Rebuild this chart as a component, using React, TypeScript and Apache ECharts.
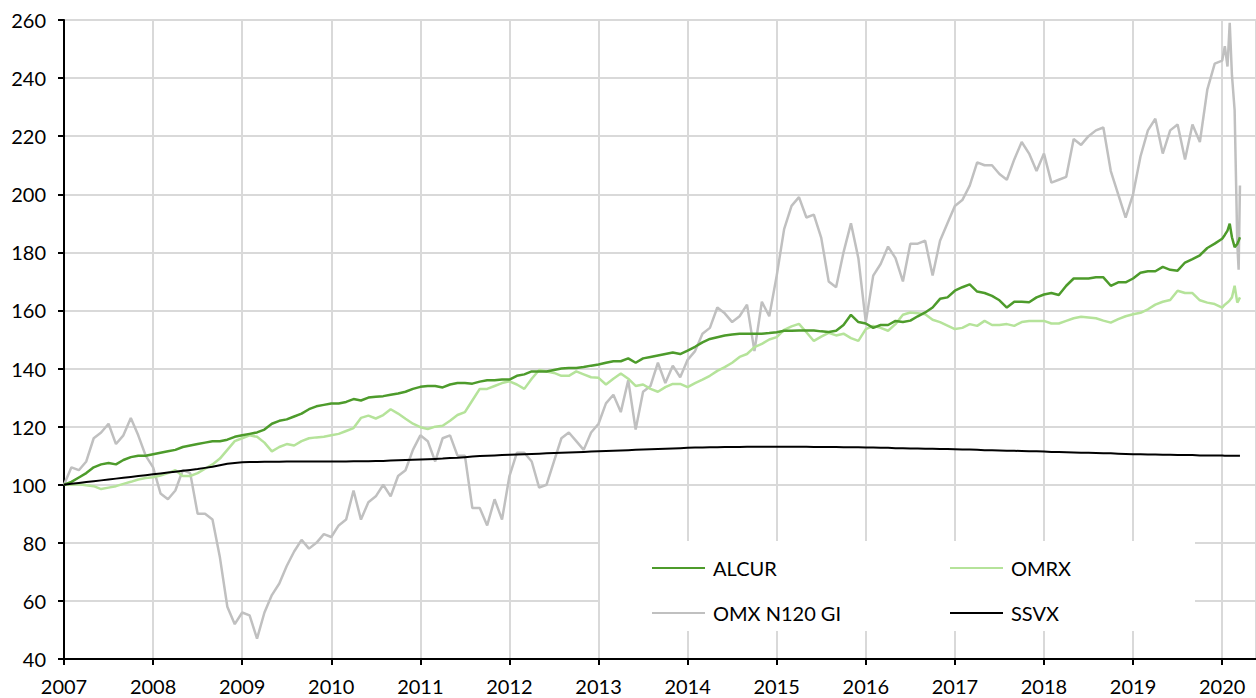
import React, { useEffect, useRef } from "react";
import * as echarts from "echarts";

// x positions: monthly points (decimal years) plus a finer tail for early 2020
const monthlyDates: number[] = [];
for (let y = 2007; y < 2020; y++) for (let m = 0; m < 12; m++) monthlyDates.push(y + m / 12);
const tailDates = [2020.0, 2020.03, 2020.06, 2020.085, 2020.11, 2020.14, 2020.17, 2020.185, 2020.2];
const dates = [...monthlyDates, ...tailDates];

const yearTicks = [2007, 2008, 2009, 2010, 2011, 2012, 2013, 2014, 2015, 2016, 2017, 2018, 2019, 2020];

const alcur = [
  100, 101, 102.5, 104, 106, 107, 107.5, 107, 108.5, 109.5, 110, 110,
  110.5, 111, 111.5, 112, 113, 113.5, 114, 114.5, 115, 115, 115.5, 116.5,
  117, 117.5, 118, 119, 121, 122, 122.5, 123.5, 124.5, 126, 127, 127.5,
  128, 128, 128.5, 129.5, 129, 130, 130.3, 130.5, 131, 131.4, 132, 133,
  133.7, 134, 134, 133.5, 134.5, 135, 135, 134.8, 135.5, 136, 136, 136.2,
  136.2, 137.5, 138, 139, 139, 139, 139.5, 140, 140.2, 140.2, 140.5, 141,
  141.4, 142, 142.5, 142.5, 143.5, 142, 143.5, 144, 144.5, 145, 145.5, 145,
  146.2, 147.5, 149, 150.2, 150.8, 151.4, 151.7, 152, 152, 152, 152, 152.2,
  152.5, 153, 153, 153.1, 153.1, 153.1, 152.8, 152.6, 153, 155, 158.5, 156,
  155.5, 154, 155, 155, 156.4, 156, 156.5, 158, 159.3, 161, 164, 164.5,
  166.8, 168, 169, 166.5, 166, 165, 163.5, 161, 163, 163, 162.8, 164.5,
  165.5, 166, 165.3, 168.5, 171, 171, 171, 171.4, 171.4, 168.5, 169.7, 169.7,
  171, 173, 173.5, 173.5, 175, 174, 173.7, 176.5, 177.7, 179, 181.5, 183,
  184.7, 186, 187.5, 189.9, 185.2, 181.8, 182.9, 184, 185.2,
];

const omrx = [
  100, 100, 100.2, 99.8, 99.5, 98.5, 99, 99.5, 100.3, 101, 101.8, 102.3,
  102.6, 103.2, 104, 105, 103, 103, 104, 105.5, 107, 109, 112, 115,
  116, 117, 116.5, 114.5, 111.5, 113, 114, 113.5, 115, 116, 116.3, 116.5,
  117, 117.5, 118.5, 119.5, 123, 123.8, 122.8, 124, 126, 124.5, 122.7, 121,
  119.8, 119.2, 120, 120.3, 122, 124, 125, 129, 133, 133, 134, 135,
  135.6, 134.5, 133, 136.5, 139.5, 139, 138.5, 137.5, 137.5, 139, 138, 137,
  136.8, 134.5, 136.5, 138.3, 136.5, 134, 134.5, 133, 132, 133.6, 134.7, 134.7,
  133.6, 135, 136.2, 137.5, 139.2, 140.5, 142, 144, 145, 147.4, 148.5, 150,
  150.8, 153.3, 154.5, 155.4, 152.5, 149.5, 151, 152.3, 151.4, 152, 150.5, 149.5,
  153.6, 154.7, 154, 153, 155.3, 158.5, 159.3, 159, 158.7, 156.8, 156, 154.8,
  153.6, 154, 155.3, 154.7, 156.4, 155, 155, 155.3, 154.7, 156, 156.4, 156.4,
  156.4, 155.5, 155.5, 156.4, 157.3, 157.8, 157.6, 157.3, 156.5, 155.8, 157, 158,
  158.7, 159.2, 160.4, 162, 163, 163.6, 166.8, 166, 166, 163.5, 162.7, 162.2,
  161, 162, 162.7, 163.5, 164.5, 168.5, 162.7, 163.5, 164.5,
];

const omxN120 = [
  100, 106, 105, 108, 116, 118, 121, 114, 117, 123, 117, 110,
  106, 97, 95, 98, 105, 104, 90, 90, 88, 75, 58, 52,
  56, 55, 47, 56, 62, 66, 72, 77, 81, 78, 80, 83,
  82, 86, 88, 98, 88, 94, 96, 100, 96, 103, 105, 112,
  117, 115, 108, 116, 117, 110, 110, 92, 92, 86, 95, 88,
  103, 111, 111, 108, 99, 100, 108, 116, 118, 115, 112, 118,
  121, 128, 131, 125, 136, 119, 132, 134, 142, 135, 141, 137,
  143, 146, 152, 154, 161, 159, 156, 158, 162, 146, 163, 158,
  172, 188, 196, 199, 192, 193, 185, 170, 168, 180, 190, 178,
  156, 172, 176, 182, 178, 170, 183, 183, 184, 172, 184, 190,
  196, 198, 203, 211, 210, 210, 207, 205, 212, 218, 214, 208,
  214, 204, 205, 206, 219, 217, 220, 222, 223, 208, 200, 192,
  200, 213, 222, 226, 214, 222, 224, 212, 224, 218, 236, 245,
  246, 251, 244, 259, 241, 229, 183, 174, 203,
];

const ssvx = [
  100, 100.3, 100.6, 100.9, 101.2, 101.5, 101.8, 102.1, 102.4, 102.7, 103.0, 103.3,
  103.6, 103.9, 104.2, 104.5, 104.8, 105.1, 105.4, 105.8, 106.2, 106.7, 107.2, 107.5,
  107.7, 107.8, 107.8, 107.9, 107.9, 107.9, 108.0, 108.0, 108.0, 108.0, 108.0, 108.0,
  108.0, 108.0, 108.0, 108.1, 108.1, 108.1, 108.2, 108.2, 108.3, 108.4, 108.5, 108.6,
  108.7, 108.8, 108.9, 109.0, 109.2, 109.3, 109.5, 109.7, 109.9, 110.0, 110.1, 110.2,
  110.3, 110.4, 110.5, 110.6, 110.7, 110.8, 110.9, 111.0, 111.1, 111.2, 111.3, 111.4,
  111.5, 111.6, 111.7, 111.8, 111.9, 112.0, 112.1, 112.2, 112.3, 112.4, 112.5, 112.6,
  112.7, 112.8, 112.8, 112.9, 112.9, 113.0, 113.0, 113.0, 113.1, 113.1, 113.1, 113.1,
  113.1, 113.1, 113.1, 113.1, 113.1, 113.0, 113.0, 113.0, 113.0, 112.9, 112.9, 112.9,
  112.8, 112.8, 112.7, 112.7, 112.6, 112.6, 112.5, 112.5, 112.4, 112.4, 112.3, 112.3,
  112.2, 112.1, 112.1, 112.0, 111.9, 111.9, 111.8, 111.7, 111.7, 111.6, 111.5, 111.5,
  111.4, 111.3, 111.3, 111.2, 111.1, 111.0, 111.0, 110.9, 110.8, 110.8, 110.7, 110.6,
  110.5, 110.5, 110.4, 110.4, 110.3, 110.3, 110.2, 110.2, 110.2, 110.1, 110.1, 110.1,
  110.1, 110.0, 110.0, 110.0, 110.0, 110.0, 110.0, 110.0, 110.0,
];

const seriesNames = ["ALCUR", "OMRX", "OMX N120 GI", "SSVX"];
const seriesColors = ["#4d9b2b", "#b5e39a", "#c0c0c0", "#000000"];
const seriesWidths = [2.5, 2.5, 2.5, 2];

const FONT = "Lato, 'Open Sans', sans-serif";

export default function App() {
  const ref = useRef<HTMLDivElement>(null);
  useEffect(() => {
    if (!ref.current) return;
    const chart = echarts.init(ref.current, null, { renderer: "svg" });
    const pair = (vals: number[]) => vals.map((v, i) => [dates[i], v]);
    const valuesByName: Record<string, number[]> = {
      ALCUR: alcur,
      OMRX: omrx,
      "OMX N120 GI": omxN120,
      SSVX: ssvx,
    };
    const drawOrder = ["OMX N120 GI", "OMRX", "ALCUR", "SSVX"];
    const series = drawOrder.map((name, k) => {
      const idx = seriesNames.indexOf(name);
      return {
        name,
        type: "line",
        data: pair(valuesByName[name]),
        showSymbol: false,
        symbol: "none",
        lineStyle: { width: seriesWidths[idx], color: seriesColors[idx] },
        itemStyle: { color: seriesColors[idx] },
        z: 2 + k,
      };
    });
    const legendPos = [
      { left: 652, top: 558 },
      { left: 950, top: 558 },
      { left: 652, top: 603 },
      { left: 950, top: 603 },
    ];
    const legends = seriesNames.map((name, i) => ({
      data: [name],
      left: legendPos[i].left,
      top: legendPos[i].top,
      padding: 0,
      itemWidth: 53,
      itemHeight: 2,
      icon: "rect",
      itemGap: 0,
      z: 10,
      textStyle: { fontSize: 20, color: "#000", fontFamily: FONT, padding: [0, 0, 0, 3] },
    }));
    chart.setOption({
      animation: false,
      backgroundColor: "#fff",
      grid: { left: 64, top: 20, right: 0, bottom: 39, containLabel: false },
      xAxis: {
        type: "value",
        min: yearTicks[0],
        max: 2020.38,
        interval: 1,
        axisLine: { show: true, lineStyle: { color: "#000", width: 2 } },
        axisTick: { show: true, length: 6, lineStyle: { color: "#000", width: 2 } },
        axisLabel: {
          showMaxLabel: false,
          fontSize: 20,
          color: "#000",
          fontFamily: FONT,
          margin: 17,
          formatter: (v: number) => (yearTicks.includes(Math.round(v)) && Math.abs(v - Math.round(v)) < 1e-6 ? String(Math.round(v)) : ""),
        },
        splitLine: { show: true, lineStyle: { color: "#d9d9d9", width: 2 } },
      },
      yAxis: {
        type: "value",
        min: 40,
        max: 260,
        interval: 20,
        axisLine: { show: true, lineStyle: { color: "#000", width: 2 } },
        axisTick: { show: true, length: 6, lineStyle: { color: "#000", width: 2 } },
        axisLabel: { fontSize: 20, color: "#000", fontFamily: FONT, margin: 18 },
        splitLine: { show: true, lineStyle: { color: "#d9d9d9", width: 2 } },
      },
      legend: legends,
      graphic: [
        {
          type: "rect",
          z: 8,
          shape: { x: 600, y: 541, width: 595, height: 90 },
          style: { fill: "#fff" },
        },
      ],
      series,
    });
    return () => chart.dispose();
  }, []);
  return <div ref={ref} style={{ width: 1256, height: 698, position: "absolute", left: 0, top: 0 }} />;
}
